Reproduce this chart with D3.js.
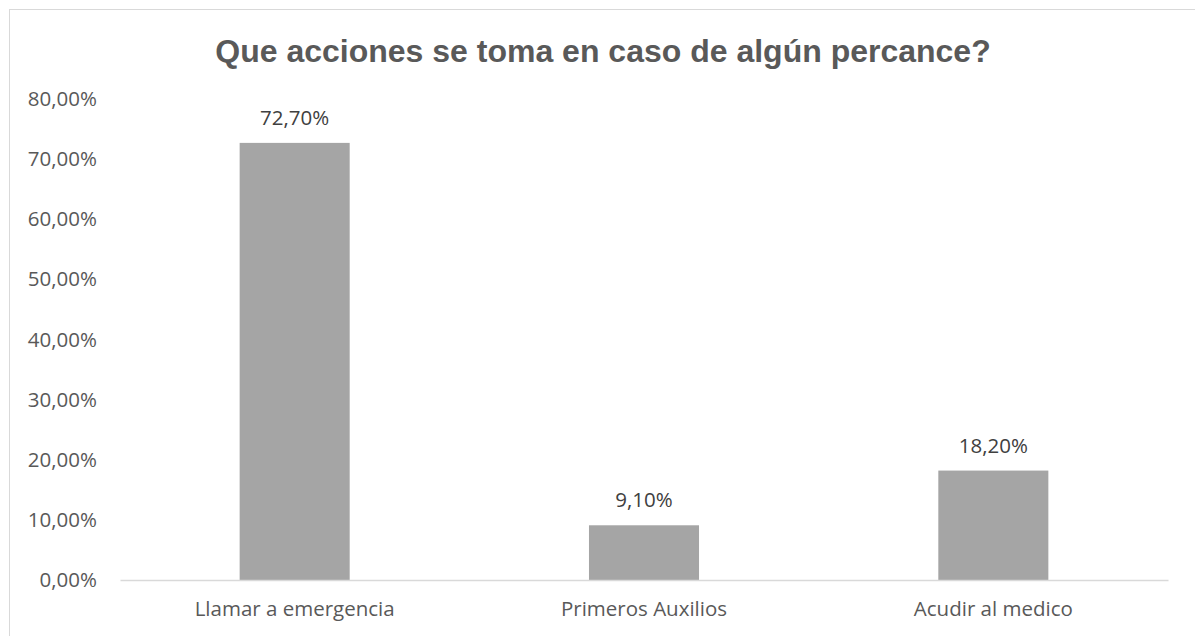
<!DOCTYPE html>
<html>
<head>
<meta charset="utf-8">
<script src="https://cdn.jsdelivr.net/npm/d3@7"></script>
<style>
  body { margin: 0; background: #fff; }
</style>
</head>
<body>
<div id="chart"></div>
<script>
// chart data
var categories = ["Llamar a emergencia", "Primeros Auxilios", "Acudir al medico"];
var values = [72.7, 9.1, 18.2];
var yTicks = [0, 10, 20, 30, 40, 50, 60, 70, 80];
var title = "Que acciones se toma en caso de algún percance?";

var WIDTH = 1195, HEIGHT = 636;
var margin = {top: 99, right: 27, bottom: 56, left: 120};
var labelSize = "20.5px";

var svg = d3.select("#chart").append("svg")
  .attr("width", WIDTH)
  .attr("height", HEIGHT)
  .style("font-family", "'Open Sans', sans-serif");

// outer chart border (runs off the right and bottom edge)
svg.append("rect")
  .attr("x", 9.5).attr("y", 9.5)
  .attr("width", WIDTH).attr("height", HEIGHT)
  .attr("fill", "none")
  .attr("stroke", "#d9d9d9");

svg.append("text")
  .attr("x", 603).attr("y", 62)
  .attr("text-anchor", "middle")
  .style("font-family", "'Liberation Sans', Arial, sans-serif")
  .style("font-weight", "bold")
  .style("font-size", "32px")
  .attr("fill", "#595959")
  .text(title);

var x = d3.scaleBand()
  .domain(categories)
  .range([margin.left, WIDTH - margin.right])
  .paddingInner(0.685)
  .paddingOuter(0.3425);

var y = d3.scaleLinear()
  .domain([0, 80])
  .range([HEIGHT - margin.bottom, margin.top]);

var fmt = function(v) { return v.toFixed(2).replace(".", ",") + "%"; };

// y axis labels only
svg.append("g")
  .attr("transform", `translate(${margin.left},0)`)
  .call(d3.axisLeft(y).tickValues(yTicks).tickFormat(fmt).tickSize(0).tickPadding(23))
  .call(g => g.select(".domain").remove())
  .selectAll("text")
    .style("font-family", "'Open Sans', sans-serif")
    .style("font-size", labelSize)
    .attr("fill", "#595959");

svg.selectAll("rect.bar")
  .data(values)
  .join("rect")
    .attr("class", "bar")
    .attr("x", (d, i) => x(categories[i]))
    .attr("y", d => y(d))
    .attr("width", x.bandwidth())
    .attr("height", d => y(0) - y(d))
    .attr("fill", "#a5a5a5");

// baseline
svg.append("g")
  .attr("transform", `translate(0,${y(0)})`)
  .call(d3.axisBottom(x).tickSize(0).tickPadding(21))
  .call(g => g.select(".domain").attr("stroke", "#d9d9d9").attr("stroke-width", 1.5))
  .selectAll("text")
    .style("font-family", "'Open Sans', sans-serif")
    .style("font-size", labelSize)
    .attr("fill", "#595959");

svg.selectAll("text.value")
  .data(values)
  .join("text")
    .attr("class", "value")
    .attr("x", (d, i) => x(categories[i]) + x.bandwidth() / 2)
    .attr("y", d => y(d) - 18)
    .attr("text-anchor", "middle")
    .style("font-size", labelSize)
    .attr("fill", "#404040")
    .text(fmt);
</script>
</body>
</html>
